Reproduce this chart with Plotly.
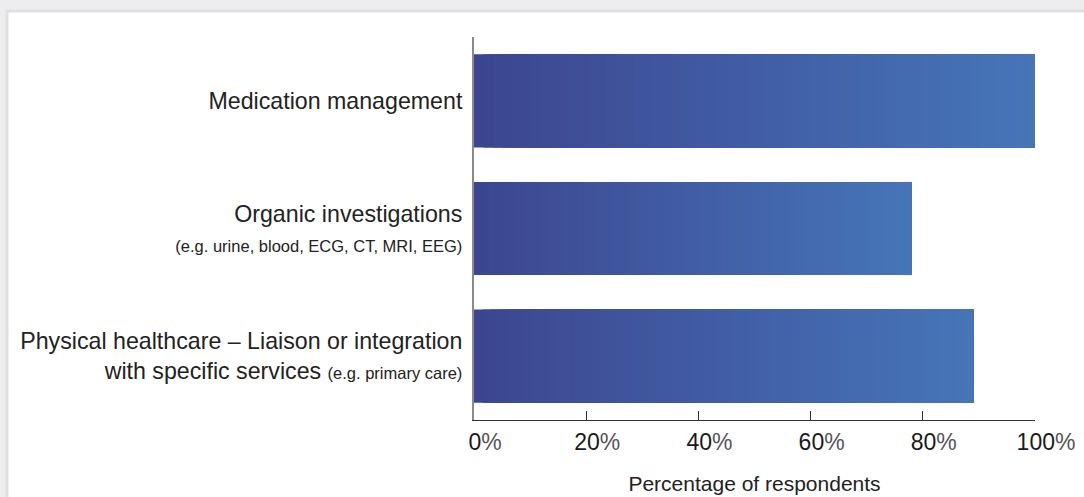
import plotly.graph_objects as go

categories = [
    "Medication management",
    "Organic investigations<br><span style='font-size:16.5px'>(e.g. urine, blood, ECG, CT, MRI, EEG)</span>",
    "Physical healthcare – Liaison or integration<br>with specific services <span style='font-size:16.5px'>(e.g. primary care)</span>",
]
values = [100, 78, 89]
tick_values = [0, 20, 40, 60, 80, 100]
tick_labels = [f"{v}<span style='color:#555'>%</span>" for v in tick_values]

color_start = (60, 70, 144)
color_end = (70, 117, 184)
N_SEG = 60

fig = go.Figure()
# gradient fill: each layer starts further right and runs to the bar end, lighter on top
for k in range(N_SEG):
    t = k / (N_SEG - 1)
    c = tuple(round(a + (b - a) * t) for a, b in zip(color_start, color_end))
    fig.add_trace(go.Bar(
        y=categories,
        x=[v * (1 - k / N_SEG) for v in values],
        base=[v * k / N_SEG for v in values],
        orientation="h",
        marker=dict(color=f"rgb{c}", line=dict(width=0)),
        hoverinfo="skip",
        showlegend=False,
    ))

fig.update_layout(
    width=1084, height=497,
    margin=dict(l=474, r=49, t=37, b=77),
    paper_bgcolor="#ededef",
    plot_bgcolor="white",
    barmode="overlay",
    bargap=0.27,
    font=dict(family="Liberation Sans, Arial, sans-serif", color="#222"),
    shapes=[dict(
        type="rect", xref="paper", yref="paper", layer="below",
        x0=-0.8324, x1=1.2, y0=-0.4, y1=1.068,
        fillcolor="white", line=dict(color="#e0e0e3", width=3),
    )],
    xaxis=dict(
        range=[0, 100], tickvals=tick_values, ticktext=tick_labels,
        showgrid=False, zeroline=False,
        showline=True, linecolor="#333", linewidth=1,
        ticks="inside", ticklen=9, tickcolor="#333", tickwidth=1,
        tickfont=dict(size=23, color="#1a1a1a"),
        ticklabelstandoff=1, ticklabelshift=11,
        title=dict(text="Percentage of respondents", font=dict(size=21, color="#222"), standoff=22),
        automargin=False,
        fixedrange=True,
    ),
    yaxis=dict(
        autorange="reversed",
        showgrid=False, zeroline=False,
        showline=True, linecolor="#8a8a8a", linewidth=2,
        ticks="", tickfont=dict(size=23.2, color="#222"),
        ticklabelstandoff=5,
        automargin=False,
        fixedrange=True,
    ),
)

fig.write_html("out.html", config={"displayModeBar": False},
               post_script="document.body.style.margin='0';")
